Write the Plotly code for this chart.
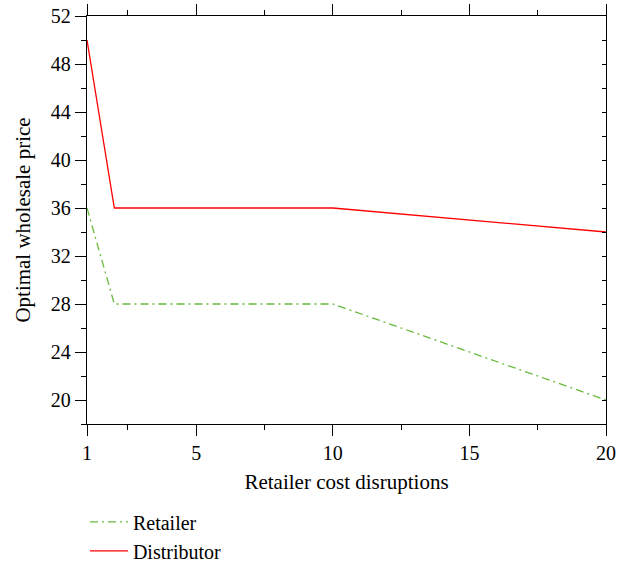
import plotly.graph_objects as go

x_vals = [1, 2, 10, 20]
retailer = [36, 28, 28, 20]
distributor = [50, 36, 36, 34]
x_ticks = [1, 5, 10, 15, 20]
x_minor = [2.5, 7.5, 12.5, 17.5]

FONT = "Liberation Serif"

fig = go.Figure()
fig.add_trace(go.Scatter(x=x_vals, y=retailer, mode="lines", name="Retailer",
                         line=dict(color="#66bb3c", width=1.3, dash="8px,4px,2px,4px")))
fig.add_trace(go.Scatter(x=x_vals, y=distributor, mode="lines", name="Distributor",
                         line=dict(color="#ff0000", width=1.3)))
# helper invisible trace for top/right axes
fig.add_trace(go.Scatter(x=[], y=[], xaxis="x2", yaxis="y2", showlegend=False, hoverinfo="skip"))

axis_common = dict(showline=True, linecolor="black", linewidth=1.3, showgrid=False,
                   zeroline=False, tickcolor="black", tickwidth=1.3, automargin=False)

fig.update_layout(
    width=625, height=563,
    margin=dict(l=87, r=19, t=16, b=139, autoexpand=False),
    paper_bgcolor="white", plot_bgcolor="white",
    font=dict(family=FONT, size=20, color="black"),
    xaxis=dict(range=[1, 20], tickmode="array", tickvals=x_ticks, ticks="outside", ticklen=11,
               minor=dict(tickmode="array", tickvals=x_minor, ticks="outside", ticklen=5,
                          tickcolor="black", tickwidth=1.3),
               title=dict(text="Retailer cost disruptions", font=dict(size=21), standoff=11),
               **axis_common),
    yaxis=dict(range=[18, 52], tickmode="linear", tick0=20, dtick=4, ticks="outside", ticklen=11,
               minor=dict(tick0=18, dtick=2, ticks="outside", ticklen=5,
                          tickcolor="black", tickwidth=1.3),
               title=dict(text="Optimal wholesale price", font=dict(size=21), standoff=14),
               **axis_common),
    xaxis2=dict(overlaying="x", side="top", anchor="y", matches="x", range=[1, 20],
                tickmode="array", tickvals=x_ticks, ticks="outside", ticklen=11, showticklabels=False,
                minor=dict(tickmode="array", tickvals=x_minor, ticks="outside", ticklen=5,
                           tickcolor="black", tickwidth=1.3),
                **axis_common),
    yaxis2=dict(overlaying="y", side="right", anchor="x", range=[18, 52],
                tickmode="linear", tick0=18, dtick=2, ticks="inside", ticklen=4, showticklabels=False,
                **axis_common),
    showlegend=True,
    legend=dict(x=-0.004, xanchor="left", y=-0.192, yanchor="top", orientation="v",
                font=dict(size=20), bgcolor="rgba(0,0,0,0)", tracegroupgap=0, itemwidth=38),
)

fig.write_html("out.html")
